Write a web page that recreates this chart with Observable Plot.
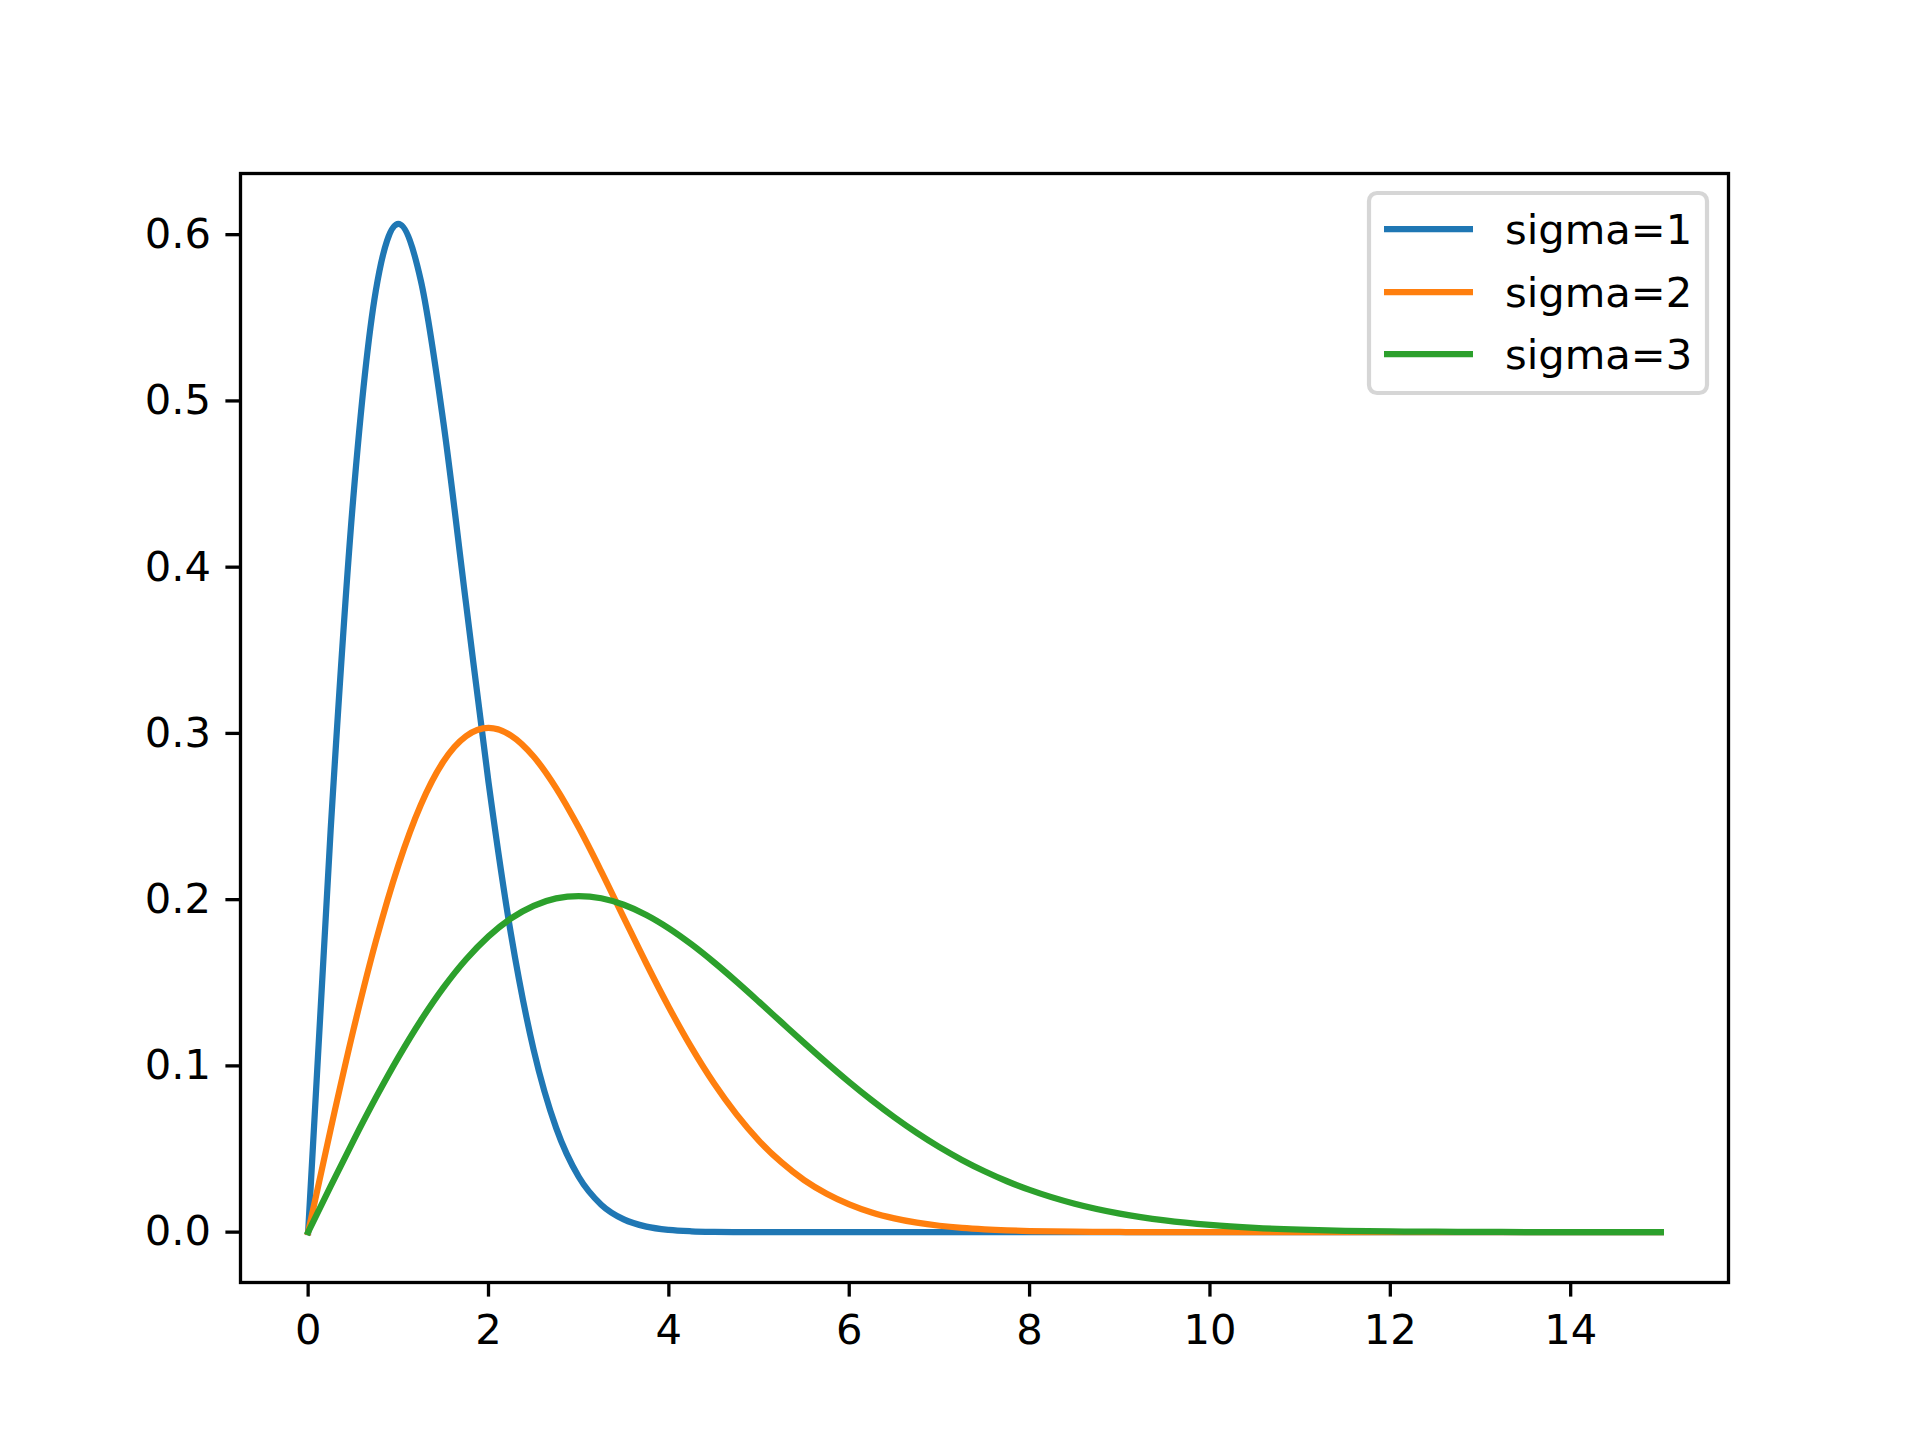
<!DOCTYPE html>
<html>
<head>
<meta charset="utf-8">
<script src="https://cdn.jsdelivr.net/npm/d3@7"></script>
<script src="https://cdn.jsdelivr.net/npm/@observablehq/plot@0.6"></script>
<style>
  html, body { margin: 0; padding: 0; background: #fff; }
  #chart { width: 1920px; height: 1440px; }
</style>
</head>
<body>
<div id="chart"></div>
<script>
// x positions (shared by all series)
const xs = [0, 0.25, 0.5, 0.75, 1, 1.25, 1.5, 1.75, 2, 2.25, 2.5, 2.75, 3, 3.25, 3.5, 3.75,
  4, 4.25, 4.5, 4.75, 5, 5.25, 5.5, 5.75, 6, 6.25, 6.5, 6.75, 7, 7.25, 7.5, 7.75,
  8, 8.5, 9, 9.5, 10, 10.5, 11, 11.5, 12, 12.5, 13, 13.5, 14, 14.5, 15];

const sigma1 = [0, 0.2423, 0.4412, 0.5661, 0.6065, 0.5723, 0.4870, 0.3785, 0.2707, 0.1790, 0.1098, 0.0627,
  0.0333, 0.01653, 0.00766, 0.00331, 0.00134, 0.00051, 0.00018, 0.00006, 0.00002, 0, 0, 0, 0, 0, 0, 0, 0, 0, 0, 0,
  0, 0, 0, 0, 0, 0, 0, 0, 0, 0, 0, 0, 0, 0, 0];

const sigma2 = [0, 0.0620, 0.1212, 0.1748, 0.2206, 0.2571, 0.2831, 0.2983, 0.3033, 0.2987, 0.2861, 0.2671,
  0.2435, 0.2170, 0.1892, 0.1616, 0.1353, 0.1111, 0.0895, 0.0708, 0.0549, 0.0419, 0.0313, 0.0231,
  0.0167, 0.0118, 0.00826, 0.00567, 0.00383, 0.00254, 0.00166, 0.00106,
  0.00067, 0.00025, 0.00009, 0.00003, 0.00001, 0, 0, 0, 0, 0, 0, 0, 0, 0, 0];

const sigma3 = [0, 0.02768, 0.05479, 0.08077, 0.10511, 0.12734, 0.14708, 0.16402, 0.17794, 0.18871, 0.19629, 0.20074,
  0.20218, 0.20082, 0.19690, 0.19076, 0.18272, 0.17312, 0.16233, 0.15069, 0.13853, 0.12616, 0.11383, 0.10179,
  0.09022, 0.07929, 0.06908, 0.05967, 0.05112, 0.04344, 0.03662, 0.03061,
  0.02540, 0.01706, 0.01111, 0.00701, 0.00430, 0.00255, 0.00147, 0.00082, 0.00045, 0.00024, 0.00012, 0.00006, 0.00003, 0.00001, 0.00001];

const seriesNames = ["sigma=1", "sigma=2", "sigma=3"];
const seriesColors = ["#1f77b4", "#ff7f0e", "#2ca02c"];
const xTicks = [0, 2, 4, 6, 8, 10, 12, 14];
const yTicks = [0.0, 0.1, 0.2, 0.3, 0.4, 0.5, 0.6];

const seriesValues = [sigma1, sigma2, sigma3];
const data = [];
seriesNames.forEach((name, i) => {
  xs.forEach((x, j) => data.push({series: name, x, y: seriesValues[i][j]}));
});

const FONT = "DejaVu Sans";
const FS = 41.67;

const chart = Plot.plot({
  width: 1920,
  height: 1440,
  marginLeft: 240,
  marginRight: 192,
  marginTop: 173,
  marginBottom: 158,
  style: {fontFamily: FONT, fontSize: FS + "px", background: "#fff", color: "#000"},
  x: {domain: [-0.75, 15.75]},
  y: {domain: [-0.0303, 0.6368]},
  color: {domain: seriesNames, range: seriesColors},
  marks: [
    Plot.line(data, {x: "x", y: "y", z: "series", stroke: "series", strokeWidth: 6.25, curve: "monotone-x", strokeLinejoin: "round", strokeLinecap: "square"}),
    Plot.frame({stroke: "#000", strokeWidth: 3.3}),
    Plot.axisX({ticks: xTicks, tickSize: 14.6, tickPadding: 17, tickFormat: d3.format("d"), strokeWidth: 3.3, label: null, fontSize: FS, fill: "#000"}),
    Plot.axisY({ticks: yTicks, tickSize: 14.6, tickPadding: 15, tickFormat: d3.format(".1f"), strokeWidth: 3.3, label: null, fontSize: FS, fill: "#000"})
  ]
});

document.getElementById("chart").appendChild(chart);

// Legend (drawn inside the SVG)
const svg = d3.select(chart);
const lg = svg.append("g").attr("font-family", FONT).attr("font-size", FS).attr("text-anchor", "start");
lg.append("rect")
  .attr("x", 1369).attr("y", 193).attr("width", 338).attr("height", 200)
  .attr("rx", 8).attr("ry", 8)
  .attr("fill", "#fff").attr("fill-opacity", 0.8)
  .attr("stroke", "#d6d6d6").attr("stroke-width", 4.2);
const rowY = [229, 292, 354];
seriesNames.forEach((name, i) => {
  lg.append("line")
    .attr("x1", 1384).attr("x2", 1473)
    .attr("y1", rowY[i]).attr("y2", rowY[i])
    .attr("stroke", seriesColors[i]).attr("stroke-width", 6.25);
  lg.append("text")
    .attr("x", 1505).attr("y", rowY[i]).attr("dy", "0.35em")
    .attr("text-anchor", "start")
    .attr("fill", "#000")
    .text(name);
});
</script>
</body>
</html>
